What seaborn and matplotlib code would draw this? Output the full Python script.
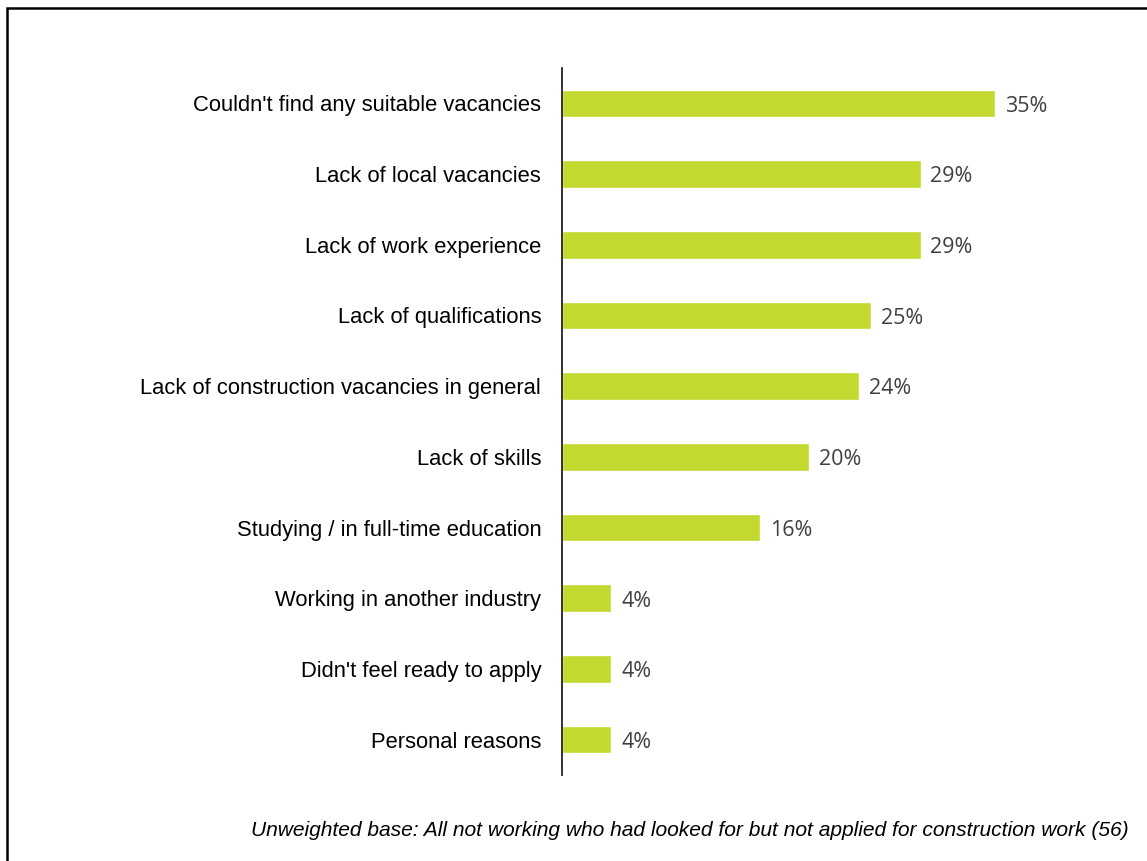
import matplotlib
matplotlib.use("Agg")
import matplotlib.pyplot as plt
import matplotlib.patches as mpatches
import seaborn as sns
import pandas as pd

reasons = [
    "Couldn't find any suitable vacancies",
    "Lack of local vacancies",
    "Lack of work experience",
    "Lack of qualifications",
    "Lack of construction vacancies in general",
    "Lack of skills",
    "Studying / in full-time education",
    "Working in another industry",
    "Didn't feel ready to apply",
    "Personal reasons",
]
shares = [35, 29, 29, 25, 24, 20, 16, 4, 4, 4]
footnote = "Unweighted base: All not working who had looked for but not applied for construction work (56)"

df = pd.DataFrame({"reason": reasons, "share": shares})

sns.set_theme(style="white")
plt.rcParams["font.family"] = ["Liberation Sans", "DejaVu Sans"]

W, H = 1147, 861
fig = plt.figure(figsize=(W / 100, H / 100), dpi=100)
ax = fig.add_axes([562 / W, 1 - 775 / H, (1100 - 562) / W, (775 - 68) / H])

sns.barplot(data=df, x="share", y="reason", orient="h", color="#C3D92F",
            saturation=1, width=0.39, ax=ax)

ax.set_xlim(0, 538 / 12.37)
ax.set_ylim(9.5, -0.5)
ax.set_xlabel("")
ax.set_ylabel("")
ax.set_xticks([])
for s in ["top", "right", "bottom"]:
    ax.spines[s].set_visible(False)
ax.spines["left"].set_color("#222222")
ax.spines["left"].set_linewidth(1.3)
ax.tick_params(axis="y", length=0, pad=15, labelsize=15.85, labelcolor="#000000")

for i, v in enumerate(shares):
    ax.annotate(f"{v}%", xy=(v, i), xytext=(7, -2), textcoords="offset points",
                va="center", ha="left", fontsize=15.5, color="#404040",
                family=["Open Sans", "DejaVu Sans"])

fig.text(1129 / W, 1 - 831 / H, footnote, ha="right", va="center",
         fontsize=15.12, style="italic", color="#000000")

# frame around the figure area
fig.patches.append(mpatches.Rectangle((6.5 / W, -0.05), 1.2, 1 - 8.5 / H + 0.05,
                                      transform=fig.transFigure, fill=False,
                                      edgecolor="#000000", linewidth=1.8,
                                      clip_on=False))

fig.savefig("out.png", dpi=100)
